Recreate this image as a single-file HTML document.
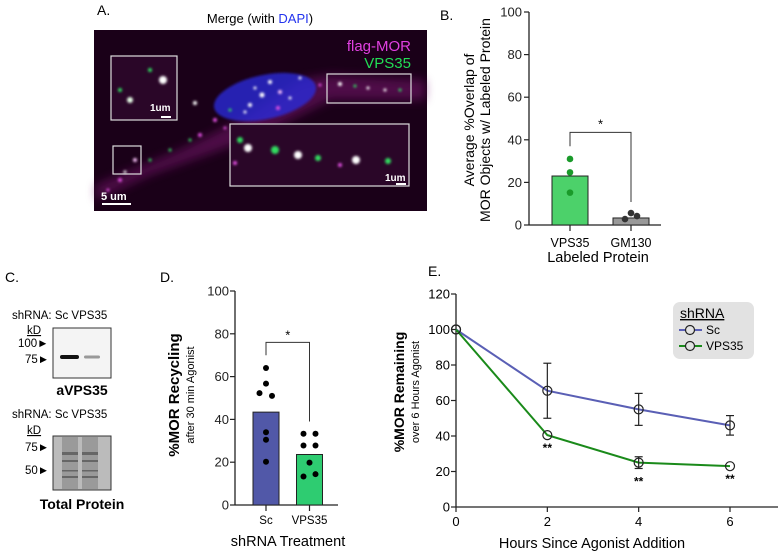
<!DOCTYPE html>
<html><head><meta charset="utf-8"><style>
body{margin:0;background:#fff;}
svg{display:block;font-family:"Liberation Sans",Arial,sans-serif;}
</style></head><body>
<svg id="fig" width="780" height="552" viewBox="0 0 780 552">
<defs>
<filter id="blur1"><feGaussianBlur stdDeviation="1.2"/></filter>
<filter id="blur4"><feGaussianBlur stdDeviation="5"/></filter>
</defs>
<!-- Panel A -->
<g>
<text x="97" y="15" font-size="14">A.</text>
<text x="260" y="23" font-size="13" text-anchor="middle">Merge (with <tspan fill="#2233ee">DAPI</tspan>)</text>
<rect x="94" y="30" width="333" height="181" fill="#1a0018"/>
<g filter="url(#blur4)" opacity="0.55">
<path d="M96 185 L180 150 L240 120 L300 80 L330 75 L425 80 L425 100 L330 100 L280 125 L220 150 L150 175 L96 200Z" fill="#7a1470"/>
</g>
<ellipse cx="265" cy="97" rx="52" ry="22" transform="rotate(-12 265 97)" fill="#2a2ad8" opacity="0.8" filter="url(#blur1)"/>
<g id="dots" filter="url(#blur1)"></g>
<rect x="111" y="56" width="66" height="64" fill="#2a0628" stroke="#ddd" stroke-width="1.2"/>
<rect x="113" y="146" width="28" height="28" fill="none" stroke="#ddd" stroke-width="1.2"/>
<rect x="327" y="74" width="84" height="29" fill="none" stroke="#ddd" stroke-width="1.2"/>
<rect x="230" y="124" width="179" height="62" fill="#2a0628" stroke="#ddd" stroke-width="1.2"/>
<g id="dots2" filter="url(#blur1)"></g>
<text x="411" y="51" font-size="15" fill="#e040e0" text-anchor="end">flag-MOR</text>
<text x="411" y="68" font-size="15" fill="#22dd55" text-anchor="end">VPS35</text>
<text x="150" y="111" font-size="10" font-weight="bold" fill="#fff">1um</text>
<rect x="161" y="116" width="10" height="2" fill="#fff"/>
<text x="385" y="181" font-size="10" font-weight="bold" fill="#fff">1um</text>
<rect x="396" y="183" width="10" height="2" fill="#fff"/>
<text x="101" y="200" font-size="11" font-weight="bold" fill="#fff">5 um</text>
<rect x="102" y="203" width="29" height="2" fill="#fff"/>
</g>

<!-- Panel B -->
<g id="panelB">
<text x="440" y="20" font-size="14">B.</text>
<text transform="translate(474,120) rotate(-90)" font-size="14" text-anchor="middle">Average %Overlap of</text>
<text transform="translate(490,120) rotate(-90)" font-size="14" text-anchor="middle">MOR Objects w/ Labeled Protein</text>
<text x="598" y="262" font-size="14.5" text-anchor="middle">Labeled Protein</text>
</g>

<!-- Panel C -->
<g>
<text x="5" y="282" font-size="14">C.</text>
<text x="12" y="319" font-size="11.5">shRNA:  Sc  VPS35</text>
<text x="27" y="334" font-size="11.5" text-decoration="underline">kD</text>
<text x="18" y="347" font-size="11.5">100►</text>
<text x="25" y="363" font-size="11.5">75►</text>
<rect x="53" y="328" width="58" height="50" fill="#f4f4f4" stroke="#333" stroke-width="1"/>
<rect x="60" y="355" width="19" height="4" rx="2" fill="#111"/>
<rect x="84" y="355.5" width="16" height="3" rx="1.5" fill="#999"/>
<text x="82" y="395" font-size="14" font-weight="bold" text-anchor="middle">aVPS35</text>
<text x="12" y="418" font-size="11.5">shRNA:  Sc  VPS35</text>
<text x="27" y="434" font-size="11.5" text-decoration="underline">kD</text>
<text x="25" y="451" font-size="11.5">75►</text>
<text x="25" y="474" font-size="11.5">50►</text>
<rect x="53" y="436" width="58" height="54" fill="#bbb" stroke="#333" stroke-width="1"/>
<rect x="62" y="437" width="16" height="52" fill="#9a9a9a"/>
<rect x="82" y="437" width="16" height="52" fill="#9a9a9a"/>
<g fill="#666"><rect x="62" y="452" width="16" height="3"/><rect x="82" y="452" width="16" height="3"/><rect x="62" y="460" width="16" height="2"/><rect x="82" y="460" width="16" height="2"/><rect x="62" y="470" width="16" height="1.5"/><rect x="82" y="470" width="16" height="1.5"/><rect x="62" y="476" width="16" height="2"/><rect x="82" y="476" width="16" height="2"/></g>
<text x="82" y="509" font-size="14" font-weight="bold" text-anchor="middle">Total Protein</text>
</g>

<!-- Panel D -->
<g id="panelD">
<text x="160" y="282" font-size="14">D.</text>
<text transform="translate(179,395) rotate(-90)" font-size="15" font-weight="bold" text-anchor="middle">%MOR Recycling</text>
<text transform="translate(194,395) rotate(-90)" font-size="11" text-anchor="middle">after 30 min Agonist</text>
<text x="288" y="546" font-size="14.5" text-anchor="middle">shRNA Treatment</text>
</g>

<!-- Panel E -->
<g id="panelE">
<text x="428" y="276" font-size="14">E.</text>
<text transform="translate(404,392) rotate(-90)" font-size="14" font-weight="bold" text-anchor="middle">%MOR Remaining</text>
<text transform="translate(419,392) rotate(-90)" font-size="11" text-anchor="middle">over 6 Hours Agonist</text>
<text x="592" y="548" font-size="14.5" text-anchor="middle">Hours Since Agonist Addition</text>
<rect x="673" y="302" width="81" height="57" rx="7" fill="#e2e2e2"/>
<text x="680" y="318" font-size="14" text-decoration="underline">shRNA</text>
<line x1="679" y1="330" x2="702" y2="330" stroke="#5a5fb5" stroke-width="2"/>
<circle cx="690" cy="330" r="4.5" fill="#e2e2e2" stroke="#222" stroke-width="1.2"/>
<text x="706" y="334" font-size="12">Sc</text>
<line x1="679" y1="346" x2="702" y2="346" stroke="#1a8a1a" stroke-width="2"/>
<circle cx="690" cy="346" r="4.5" fill="#e2e2e2" stroke="#222" stroke-width="1.2"/>
<text x="706" y="350" font-size="12">VPS35</text>
</g>
</svg>
<script>
// Panel B data
const bCats = ["VPS35", "GM130"];
const bMeans = [23, 3.3];
const bPointsVPS35 = [31, 24.7, 15.2];
const bPointsGM130 = [2.8, 5.6, 4.2];
const bTicks = [0, 20, 40, 60, 80, 100];
// Panel D data
const dCats = ["Sc", "VPS35"];
const dMeans = [43.4, 23.6];
const dPointsSc = [64, 56.7, 52.3, 51, 34, 30.5, 20.2];
const dPointsVPS35 = [33.3, 33.3, 27.8, 27.8, 19.8, 13.3, 14.4];
const dTicks = [0, 20, 40, 60, 80, 100];
// Panel E data
const eHours = [0, 2, 4, 6];
const eSc = [100, 65.5, 55, 46];
const eScErr = [0, 15.5, 9, 5.5];
const eVPS = [100, 40.5, 25, 23];
const eVPSErr = [0, 0, 3.3, 0];
const eYTicks = [0, 20, 40, 60, 80, 100, 120];
const eXTicks = [0, 2, 4, 6];

const NS = "http://www.w3.org/2000/svg";
function mk(parent, tag, attrs, txt){const e=document.createElementNS(NS,tag);for(const k in attrs)e.setAttribute(k,attrs[k]);if(txt!==undefined)e.textContent=txt;parent.appendChild(e);return e;}
const TF=13;

// micrograph dots
const dots=document.getElementById('dots');
[[120,180,2,'#e050e0'],[125,172,1.5,'#fff'],[135,160,2,'#f8c0f8'],[150,160,1.5,'#30dd60'],[190,140,1.5,'#30dd60'],[200,135,2,'#e050e0'],[215,120,2,'#e050e0'],[230,110,1.5,'#30dd60'],[250,105,2,'#fff'],[262,95,2.5,'#fff'],[270,82,2,'#fff'],[280,92,2,'#f8c0f8'],[255,88,1.5,'#fff'],[290,98,1.5,'#fff'],[300,78,1.5,'#fff'],[278,108,2,'#e050e0'],[245,112,1.5,'#fff'],[195,103,2,'#fff'],[320,85,1.5,'#e050e0'],[340,84,2,'#fff'],[355,86,1.5,'#30dd60'],[368,88,1.5,'#fff'],[385,90,1.5,'#fff'],[400,90,1.5,'#30dd60'],[225,128,1.5,'#e050e0'],[170,150,1.5,'#30dd60'],[108,190,1.5,'#e050e0']].forEach(d=>{
const c=mk(dots,'circle',{cx:d[0],cy:d[1],r:d[2],fill:d[3]});

});
const dots2=document.getElementById('dots2');
[[163,80,4,'#fff'],[130,100,3,'#e8ffe8'],[150,70,2,'#30dd60'],[120,90,2,'#30dd60'],[248,148,4,'#fff'],[240,140,3,'#30dd60'],[275,150,4,'#30dd60'],[298,155,4,'#fff'],[318,158,3,'#30dd60'],[356,160,4,'#fff'],[388,161,3,'#30dd60'],[235,163,2,'#e050e0'],[340,165,2,'#e050e0']].forEach(d=>{
const c=mk(dots2,'circle',{cx:d[0],cy:d[1],r:d[2],fill:d[3]});

});

// Panel B
(function(){
const g=document.getElementById('panelB');
const y0=225,y100=12,xAx=529;
const Y=v=>y0-(y0-y100)*v/100;
const X=[570,631];
const fills=['#4cd16a','#999'];
mk(g,'line',{x1:xAx,y1:Y(100),x2:xAx,y2:y0,stroke:'#222','stroke-width':1.3});
mk(g,'line',{x1:xAx,y1:y0,x2:661,y2:y0,stroke:'#222','stroke-width':1.3});
bTicks.forEach(t=>{
 const tk=mk(g,'line',{x1:xAx-5,y1:Y(t),x2:xAx,y2:Y(t),stroke:'#222','stroke-width':1.2});
 
 
 const l=mk(g,'text',{x:xAx-7,y:Y(t)+4.5,'font-size':TF,'text-anchor':'end',fill:'#222'},t);
 
 });
bCats.forEach((c,i)=>{
 const b=mk(g,'rect',{x:X[i]-18,y:Y(bMeans[i]),width:36,height:y0-Y(bMeans[i]),fill:fills[i],stroke:'#222','stroke-width':1});
 
 
 mk(g,'line',{x1:X[i],y1:y0,x2:X[i],y2:y0+6,stroke:'#222','stroke-width':1.2});
 const l=mk(g,'text',{x:X[i],y:247,'font-size':12.5,'text-anchor':'middle'},c);
 
 });
const pv=[bPointsVPS35,bPointsGM130];const off=[[0,0,0],[-6,0,6]];const pc=['#1a9a2a','#333'];
pv.forEach((arr,i)=>arr.forEach((v,j)=>{
 const p=mk(g,'circle',{cx:X[i]+off[i][j],cy:Y(v),r:3.3,fill:pc[i]});
 
 }));
const br=mk(g,'polyline',{points:`${X[0]},${Y(37)} ${X[0]},${Y(43.5)} ${X[1]},${Y(43.5)} ${X[1]},${Y(10.8)}`,fill:'none',stroke:'#333','stroke-width':1});


mk(g,'text',{x:(X[0]+X[1])/2,y:Y(43.5)-4,'font-size':13,'text-anchor':'middle'},'*');
})();

// Panel D
(function(){
const g=document.getElementById('panelD');
const y0=505,y100=291,xAx=235;
const Y=v=>y0-(y0-y100)*v/100;
const X=[266,309.5];
const fills=['#5158a8','#2ecc71'];
mk(g,'line',{x1:xAx,y1:Y(100),x2:xAx,y2:y0,stroke:'#222','stroke-width':1.3});
mk(g,'line',{x1:xAx,y1:y0,x2:338,y2:y0,stroke:'#222','stroke-width':1.3});
dTicks.forEach(t=>{
 const tk=mk(g,'line',{x1:xAx-5,y1:Y(t),x2:xAx,y2:Y(t),stroke:'#222','stroke-width':1.2});
 
 
 const l=mk(g,'text',{x:xAx-6,y:Y(t)+4.5,'font-size':TF,'text-anchor':'end',fill:'#222'},t);
 
 });
dCats.forEach((c,i)=>{
 const b=mk(g,'rect',{x:X[i]-13,y:Y(dMeans[i]),width:26,height:y0-Y(dMeans[i]),fill:fills[i],stroke:'#222','stroke-width':1});
 
 
 mk(g,'line',{x1:X[i],y1:y0,x2:X[i],y2:y0+6,stroke:'#222','stroke-width':1.2});
 const l=mk(g,'text',{x:X[i],y:524,'font-size':11.5,'text-anchor':'middle'},c);
 
 });
const offSc=[0,0,-6.5,6,0,0,0],offV=[-6,6,-6,6,0,-6,6];
dPointsSc.forEach((v,j)=>{const p=mk(g,'circle',{cx:X[0]+offSc[j],cy:Y(v),r:3,fill:'#000'});
 
 });
dPointsVPS35.forEach((v,j)=>{const p=mk(g,'circle',{cx:X[1]+offV[j],cy:Y(v),r:3,fill:'#000'});
 
 });
const br=mk(g,'polyline',{points:`${X[0]},${Y(70)} ${X[0]},${Y(76)} ${X[1]},${Y(76)} ${X[1]},${Y(39)}`,fill:'none',stroke:'#333','stroke-width':1});


mk(g,'text',{x:(X[0]+X[1])/2,y:Y(76)-3,'font-size':13,'text-anchor':'middle'},'*');
})();

// Panel E
(function(){
const g=document.getElementById('panelE');
const y0=507,y120=294,x0=456,x6=730;
const Y=v=>y0-(y0-y120)*v/120;
const X=h=>x0+(x6-x0)*h/6;
mk(g,'line',{x1:x0,y1:Y(120),x2:x0,y2:y0,stroke:'#222','stroke-width':1.3});
mk(g,'line',{x1:x0,y1:y0,x2:778,y2:y0,stroke:'#222','stroke-width':1.3});
eYTicks.forEach(t=>{
 mk(g,'line',{x1:x0-5,y1:Y(t),x2:x0,y2:Y(t),stroke:'#222','stroke-width':1.2});
 const l=mk(g,'text',{x:x0-6,y:Y(t)+4.5,'font-size':TF,'text-anchor':'end'},t);
 
 });
eXTicks.forEach(t=>{
 mk(g,'line',{x1:X(t),y1:y0,x2:X(t),y2:y0+5,stroke:'#222','stroke-width':1.2});
 const l=mk(g,'text',{x:X(t),y:526,'font-size':TF,'text-anchor':'middle'},t);
 
 });
function series(vals,errs,color,name){
 const ln=mk(g,'polyline',{points:eHours.map((h,i)=>X(h)+','+Y(vals[i])).join(' '),fill:'none',stroke:color,'stroke-width':2});
 
 
 eHours.forEach((h,i)=>{
  if(errs[i]>0){
   const x=X(h);
   mk(g,'line',{x1:x,y1:Y(vals[i]-errs[i]),x2:x,y2:Y(vals[i]+errs[i]),stroke:'#222','stroke-width':1.2});
   mk(g,'line',{x1:x-4,y1:Y(vals[i]-errs[i]),x2:x+4,y2:Y(vals[i]-errs[i]),stroke:'#222','stroke-width':1.2});
   mk(g,'line',{x1:x-4,y1:Y(vals[i]+errs[i]),x2:x+4,y2:Y(vals[i]+errs[i]),stroke:'#222','stroke-width':1.2});
  }
 });
 eHours.forEach((h,i)=>{
  const p=mk(g,'circle',{cx:X(h),cy:Y(vals[i]),r:4.5,fill:'#fff','fill-opacity':0,stroke:'#222','stroke-width':1.2});
  
  
 });
}
series(eSc,eScErr,'#5a5fb5','sc');
series(eVPS,eVPSErr,'#1a8a1a','vps35');
const sig=[2,4,6];
sig.forEach(h=>{
 const i=eHours.indexOf(h);
 const s=mk(g,'text',{x:X(h),y:Y(eVPS[i]-eVPSErr[i])+17,'font-size':12,'font-weight':'bold','text-anchor':'middle'},'**');
 
 
});
})();
</script>
</body></html>
